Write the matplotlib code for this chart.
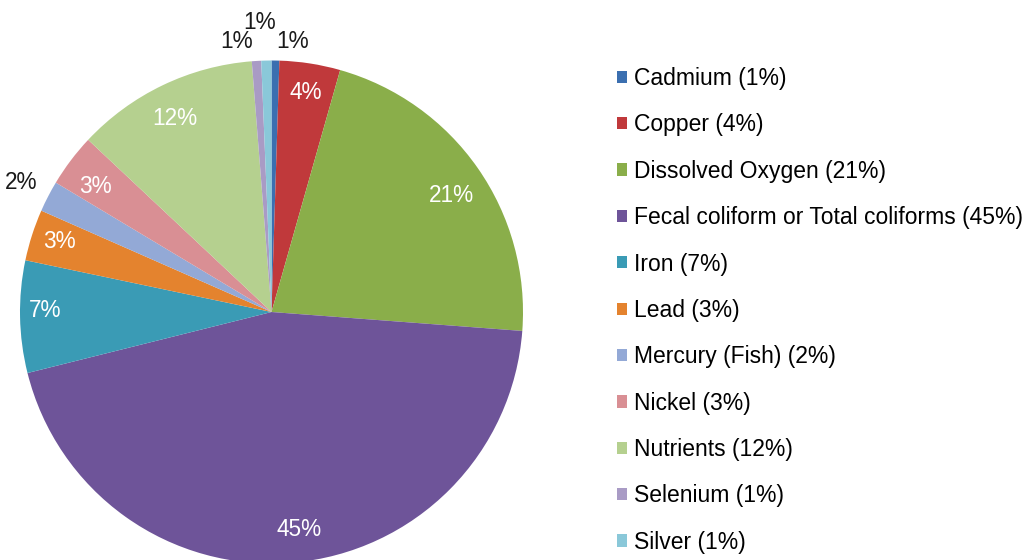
import matplotlib.pyplot as plt
import numpy as np

plt.rcParams['font.family'] = ['Liberation Sans', 'DejaVu Sans']

names = ['Cadmium', 'Copper', 'Dissolved Oxygen', 'Fecal coliform or Total coliforms',
         'Iron', 'Lead', 'Mercury (Fish)', 'Nickel', 'Nutrients', 'Selenium', 'Silver']
shares = [0.5, 3.9, 21.8, 44.9, 7.2, 3.3, 2.0, 3.4, 11.75, 0.6, 0.65]
pct_labels = ['1%', '4%', '21%', '45%', '7%', '3%', '2%', '3%', '12%', '1%', '1%']
colors = ['#3b6fb0', '#c0393b', '#8aae4a', '#6e5499', '#3a9bb5', '#e4832e',
          '#93a9d6', '#d98f94', '#b5d08f', '#a99bc5', '#8ac8d9']

# label placement: radius (pie units), clockwise angle nudge (deg), outside?
label_r = [1.077, 0.885, 0.85, 0.87, 0.90, 0.89, 1.12, 0.86, 0.86, 1.083, 1.154]
label_nudge = [3.5, 0, 2, -2.4, 1.5, 0.5, 0, -1.5, -0.8, -4, -1.2]
label_out = [True, False, False, False, False, False, True, False, False, True, True]

fig = plt.figure(figsize=(10.29, 5.6), dpi=100)
ax = fig.add_axes([20 / 1029, -3.5 / 560, 503 / 1029, 503 / 560])

wedges, _ = ax.pie(shares, colors=colors, startangle=90, counterclock=False,
                   radius=1.0, wedgeprops=dict(linewidth=0))
ax.set_xlim(-1, 1)
ax.set_ylim(-1, 1)
ax.axis('off')
for w in wedges:
    w.set_clip_on(False)

for w, lab, r, nd, out in zip(wedges, pct_labels, label_r, label_nudge, label_out):
    ang = np.deg2rad((w.theta1 + w.theta2) / 2 - nd)
    x, y = r * np.cos(ang), r * np.sin(ang)
    ax.text(x, y, lab, ha='center', va='center', fontsize=16.3,
            color='#1a1a1a' if out else 'white', clip_on=False)

leg_labels = [f'{n} ({p})' for n, p in zip(names, pct_labels)]
fig.legend(wedges, leg_labels, loc='upper left', bbox_to_anchor=(617 / 1029, 1 - 67 / 560),
           frameon=False, fontsize=16.5, handlelength=0.44, handleheight=0.44,
           handletextpad=0.3, labelspacing=1.02, borderaxespad=0, borderpad=0)

fig.savefig('out.png', dpi=100)
